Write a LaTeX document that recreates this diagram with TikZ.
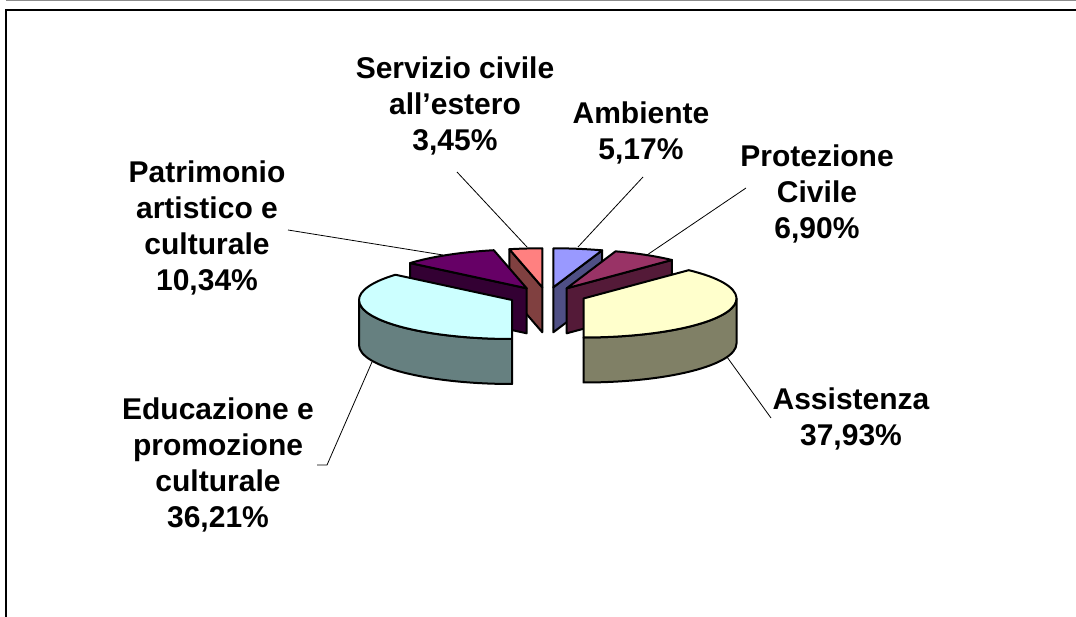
\documentclass[tikz,border=0pt]{standalone}
\usepackage{fontspec}
\setmainfont{Liberation Sans}
\usetikzlibrary{calc}
\definecolor{ambTop}{HTML}{9999FF}
\definecolor{ambSide}{HTML}{4F4F85}
\definecolor{proTop}{HTML}{993366}
\definecolor{proSide}{HTML}{541A38}
\definecolor{assTop}{HTML}{FFFFCC}
\definecolor{assSide}{HTML}{808066}
\definecolor{eduTop}{HTML}{CCFFFF}
\definecolor{eduSide}{HTML}{668080}
\definecolor{patTop}{HTML}{660066}
\definecolor{patSide}{HTML}{330033}
\definecolor{serTop}{HTML}{FF8080}
\definecolor{serSide}{HTML}{804040}
\def\slicetop[#1](#2)(#3:#4){\filldraw[#1] (#2) -- ++(#3:153 and 39) arc[start angle=#3, end angle=#4, x radius=153, y radius=39] -- cycle;}
\def\sliceface[#1](#2)(#3){\filldraw[#1] (#2) -- ++(#3:153 and 39) -- ++(0,45) -- ($(#2)+(0,45)$) -- cycle;}
\def\sliceside[#1](#2)(#3:#4){\filldraw[#1] ($(#2)+(#3:153 and 39)$) arc[start angle=#3, end angle=#4, x radius=153, y radius=39] -- ++(0,45) arc[start angle=#4, end angle=#3, x radius=153, y radius=39] -- cycle;}
\tikzset{
	slice/.style={draw=black, line width=2pt, line join=round},
	lbl/.style={font=\bfseries\fontsize{30}{36}\selectfont, align=center, inner sep=0pt},
	leader/.style={line width=0.8pt}
}

\begin{document}
\begin{tikzpicture}[x=1pt, y=-1pt]
			%%%%% START %%%%%
			\useasboundingbox (0,0) rectangle (1076,617);
			
			\draw[line width=1pt, color=black!45] (6,0.5) -- (1076,0.5);
			\draw[line width=1.4pt] (6,617) -- (6,10) -- (1076,10);
			
			\coordinate (ser) at (542.3,287.3);
			\coordinate (amb) at (553.3,287.3);
			\coordinate (pat) at (526.7,288.3);
			\coordinate (pro) at (566.7,288.3);
			\coordinate (edu) at (512,300);
			\coordinate (ass) at (583.5,298.5);
			
			% back slices
			\sliceface[slice, fill=serSide](ser)(257.58);
			\slicetop[slice, fill=serTop](ser)(257.58:270);
			
			\sliceface[slice, fill=ambSide](amb)(-71.39);
			\slicetop[slice, fill=ambTop](amb)(-90:-71.39);
			
			\sliceface[slice, fill=patSide](pat)(220.36);
			\slicetop[slice, fill=patTop](pat)(220.36:257.58);
			
			\sliceface[slice, fill=proSide](pro)(-46.55);
			\slicetop[slice, fill=proTop](pro)(-71.39:-46.55);
			
			% front slices
			\sliceside[slice, fill=eduSide](edu)(90:180);
			\slicetop[slice, fill=eduTop](edu)(90:220.36);
			
			\sliceside[slice, fill=assSide](ass)(0:90);
			\slicetop[slice, fill=assTop](ass)(-46.55:90);
			
			% labels
			\node[lbl] (serLbl) at (455,106) {Servizio civile\\all’estero\\3,45\%};
			\node[lbl] (ambLbl) at (641,133) {Ambiente\\5,17\%};
			\node[lbl] (proLbl) at (817,194) {Protezione\\Civile\\6,90\%};
			\node[lbl] (patLbl) at (207,228) {Patrimonio\\artistico e\\culturale\\10,34\%};
			\node[lbl] (eduLbl) at (218,465) {Educazione e\\promozione\\culturale\\36,21\%};
			\node[lbl] (assLbl) at (851,419) {Assistenza\\37,93\%};
			
			\coordinate (serA) at (457,172);
			\coordinate (serB) at (527,247);
			\coordinate (ambA) at (643,177);
			\coordinate (ambB) at (578,247);
			\coordinate (proA) at (746,188);
			\coordinate (proB) at (647,255);
			\coordinate (patA) at (288,230);
			\coordinate (patB) at (443,255);
			\coordinate (eduA) at (317,465);
			\coordinate (eduB) at (327,465);
			\coordinate (eduC) at (372,362);
			\coordinate (assA) at (727,357);
			\coordinate (assB) at (771,418);
			
			\draw[leader] (serA) -- (serB);
			\draw[leader] (ambA) -- (ambB);
			\draw[leader] (proA) -- (proB);
			\draw[leader] (patA) -- (patB);
			\draw[leader] (eduA) -- (eduB) -- (eduC);
			\draw[leader] (assA) -- (assB);
			
			%%%%% END %%%%%
\end{tikzpicture}
\end{document}
